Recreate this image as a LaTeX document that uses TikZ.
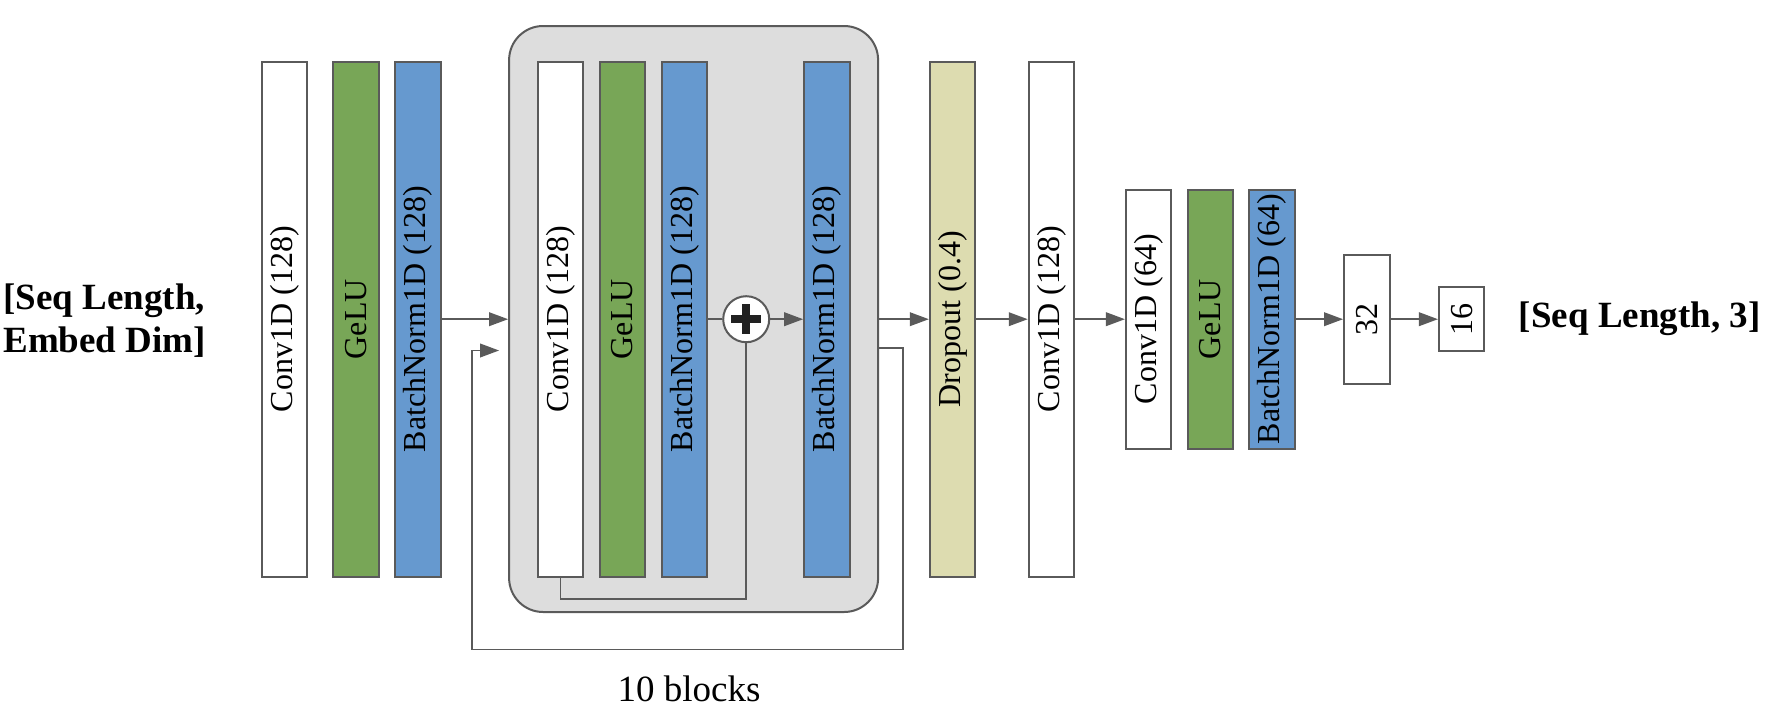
\documentclass[tikz,border=0pt]{standalone}
\usepackage{fontspec}
\setmainfont{Liberation Serif}
\usepackage{graphicx}
\usetikzlibrary{arrows.meta, positioning}

\definecolor{lineGrey}{RGB}{90,90,90}
\definecolor{geluGreen}{RGB}{120,166,87}
\definecolor{normBlue}{RGB}{102,153,207}
\definecolor{dropKhaki}{RGB}{221,220,176}
\definecolor{blockGrey}{RGB}{221,221,221}

\newcommand{\uplabel}[1]{\rotatebox{90}{#1}}

\tikzset{
  layer/.style = {draw=lineGrey, line width=1pt, fill=white, inner sep=0pt,
    minimum width=22.75pt, minimum height=257.5pt, font=\fontsize{16}{19}\selectfont},
  halflayer/.style = {layer, minimum height=129.5pt},
  flow/.style = {draw=lineGrey, line width=0.9pt, -{Triangle[length=9.5pt, width=6.8pt]}},
  wire/.style = {draw=lineGrey, line width=0.9pt},
  bigtext/.style = {font=\fontsize{18.5}{21.5}\selectfont},
  boldtext/.style = {font=\fontsize{18.5}{21.5}\selectfont\bfseries}
}

\begin{document}
\begin{tikzpicture}[x=0.5pt, y=-0.5pt]
    \useasboundingbox (0, 0) rectangle (1766, 712);

    % repeated block
    \node[draw=lineGrey, line width=1pt, fill=blockGrey, rounded corners=17pt,
      minimum width=184.5pt, minimum height=293pt] (block) at (693.6, 319) {};

    \node[layer] (conv1) at (284.4, 319.2) {\uplabel{Conv1D (128)}};
    \node[layer, fill=geluGreen] (gelu1) at (356.2, 319.2) {\uplabel{GeLU}};
    \node[layer, fill=normBlue] (norm1) at (417.9, 319.2) {\uplabel{BatchNorm1D (128)}};

    \node[layer] (conv2) at (560.5, 319.2) {\uplabel{Conv1D (128)}};
    \node[layer, fill=geluGreen] (gelu2) at (622.5, 319.2) {\uplabel{GeLU}};
    \node[layer, fill=normBlue] (norm2) at (684.5, 319.2) {\uplabel{BatchNorm1D (128)}};
    \node[circle, draw=lineGrey, line width=1pt, fill=white, minimum size=23pt, inner sep=0pt] (add) at (746.2, 319.2) {};
    \fill[black!87] ([xshift=-7.5pt, yshift=-2pt]add.center) rectangle ([xshift=7.5pt, yshift=2pt]add.center);
    \fill[black!87] ([xshift=-2pt, yshift=-7.5pt]add.center) rectangle ([xshift=2pt, yshift=7.5pt]add.center);
    \node[layer, fill=normBlue] (norm3) at (826.9, 319.2) {\uplabel{BatchNorm1D (128)}};

    \node[layer, fill=dropKhaki] (drop) at (952.6, 319.2) {\uplabel{Dropout (0.4)}};
    \node[layer] (conv3) at (1051.5, 319.2) {\uplabel{Conv1D (128)}};

    \node[halflayer] (conv4) at (1148.7, 319.2) {\uplabel{Conv1D (64)}};
    \node[halflayer, fill=geluGreen] (gelu4) at (1210.3, 319.2) {\uplabel{GeLU}};
    \node[halflayer, fill=normBlue] (norm4) at (1272.2, 319.2) {\uplabel{BatchNorm1D (64)}};

    \node[layer, minimum height=64.5pt] (fc32) at (1366.8, 319.2) {\uplabel{32}};
    \node[layer, minimum height=32pt] (fc16) at (1461.7, 319.2) {\uplabel{16}};

    \node[boldtext, anchor=west, align=left, inner sep=0pt] (input) at (3, 321) {[Seq Length,\\Embed Dim]};
    \node[boldtext, anchor=west, inner sep=0pt] (output) at (1518.5, 319.2) {[Seq Length, 3]};
    \node[bigtext] (blocks) at (689, 689) {10 blocks};

    % main flow
    \draw[flow] (norm1.east) -- (norm1.east -| block.west);
    \draw[wire] (norm2) -- (add);
    \draw[flow] (add) -- (norm3);
    \draw[flow] (norm3.east -| block.east) -- (drop);
    \draw[flow] (drop) -- (conv3);
    \draw[flow] (conv3) -- (conv4);
    \draw[flow] (norm4) -- (fc32);
    \draw[flow] (fc32) -- (fc16);

    % skip inside the block
    \coordinate (skipB) at (560.5, 599);
    \draw[wire] (conv2.south) -- (skipB) -| (add.south);

    % loop over the blocks
    \coordinate (loopR) at (902.6, 649.4);
    \coordinate (loopL) at (471.8, 649.4);
    \draw[flow] ([yshift=-14.5pt]block.east) -| (loopR) -- (loopL) |- ([xshift=-4.5pt, yshift=-15.75pt]block.west);
\end{tikzpicture}
\end{document}
